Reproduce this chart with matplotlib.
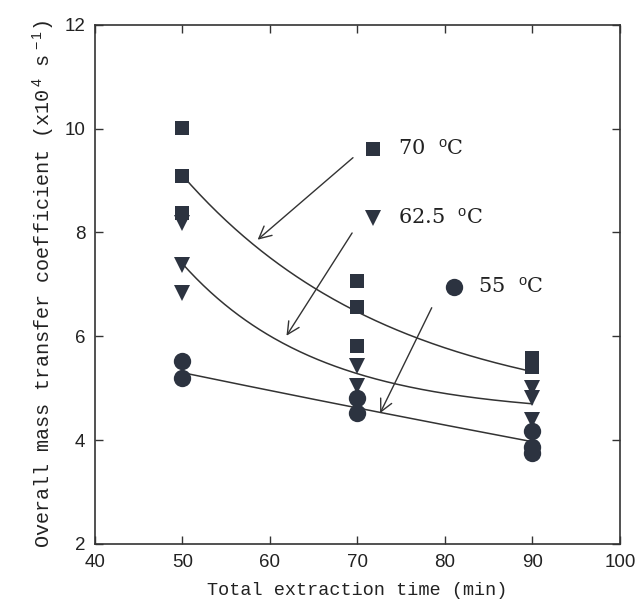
import numpy as np
import matplotlib
matplotlib.use("Agg")
import matplotlib.pyplot as plt

plt.rcParams['mathtext.fontset'] = 'custom'
plt.rcParams['mathtext.rm'] = 'Liberation Sans'
plt.rcParams['mathtext.it'] = 'Liberation Sans'

# Data
time_70 = [50, 50, 50, 70, 70, 70, 90, 90]
k_70 = [10.01, 9.09, 8.37, 7.07, 6.56, 5.82, 5.59, 5.40]
time_625 = [50, 50, 50, 70, 70, 90, 90, 90]
k_625 = [8.18, 7.38, 6.83, 5.43, 5.05, 5.00, 4.81, 4.39]
time_55 = [50, 50, 70, 70, 90, 90, 90]
k_55 = [5.53, 5.19, 4.81, 4.52, 4.17, 3.86, 3.76]

# Fitted-curve values at 50, 70, 90 min
fit_times = [50, 70, 90]
fit_70 = [9.10, 6.47, 5.32]
fit_625 = [7.40, 5.28, 4.70]
fit_55 = [5.30, 4.62, 3.97]

x_ticks = [40, 50, 60, 70, 80, 90, 100]
y_ticks = [2, 4, 6, 8, 10, 12]

mc = '#2c3340'
lc = '#333333'

fig = plt.figure(figsize=(6.41, 6.13), dpi=100)
ax = fig.add_axes([0.148, 0.1126, 0.819, 0.847])

def curve(vals):
    # exponential decay y = a + B * r**((t - t0)/h) through the three points
    t0, h = fit_times[0], fit_times[1] - fit_times[0]
    d1 = vals[0] - vals[1]
    d2 = vals[1] - vals[2]
    r = d2 / d1
    B = d1 / (1 - r)
    a = vals[0] - B
    xs = np.linspace(fit_times[0], fit_times[-1], 200)
    ax.plot(xs, a + B * r ** ((xs - t0) / h), color=lc, lw=1.1, zorder=2)

curve(fit_70)
curve(fit_625)
curve(fit_55)

ax.plot(time_70, k_70, 's', color=mc, ms=10, mew=0, zorder=3)
ax.plot(time_625, k_625, 'v', color=mc, ms=12, mew=0, zorder=3)
ax.plot(time_55, k_55, 'o', color=mc, ms=12.5, mew=0, zorder=3)

# Labels with markers
ax.plot([71.8], [9.61], 's', color=mc, ms=10, mew=0, clip_on=False)
ax.plot([71.8], [8.28], 'v', color=mc, ms=12, mew=0, clip_on=False)
ax.plot([81.0], [6.95], 'o', color=mc, ms=12.5, mew=0, clip_on=False)
lab_font = dict(family='DejaVu Serif', fontsize=15, color='#222222', va='center')
ax.text(74.6, 9.61, r'70  $^{\rm o}$C', **lab_font)
ax.text(74.6, 8.28, r'62.5  $^{\rm o}$C', **lab_font)
ax.text(83.8, 6.95, r'55  $^{\rm o}$C', **lab_font)

# Arrows
arrows = [((69.5, 9.44), (58.6, 7.86)),
          ((69.4, 7.99), (61.9, 6.01)),
          ((78.5, 6.55), (72.6, 4.52))]
for start, end in arrows:
    ax.annotate('', xy=end, xytext=start,
                arrowprops=dict(arrowstyle='->', color=lc, lw=1.0,
                                mutation_scale=22, shrinkA=0, shrinkB=0))

ax.set_xlim(40, 100)
ax.set_ylim(2, 12)
ax.set_xticks(x_ticks)
ax.set_yticks(y_ticks)
ax.tick_params(direction='in', length=6, width=1.0, top=True, right=True,
               labelsize=13.5, colors=lc, labelcolor='#222222', pad=7)
for lab in ax.get_xticklabels() + ax.get_yticklabels():
    lab.set_family('Liberation Sans')
for s in ax.spines.values():
    s.set_linewidth(1.2)
    s.set_color(lc)

ax.set_xlabel('Total extraction time (min)', family='Liberation Mono',
              fontsize=13.3, color='#222222', labelpad=8)
ax.set_ylabel(r'Overall mass transfer coefficient (x10$^{\,4}$ s$^{\,-1}$)',
              family='Liberation Mono', fontsize=14.5, color='#222222', labelpad=6)

fig.savefig('out.png', dpi=100)
